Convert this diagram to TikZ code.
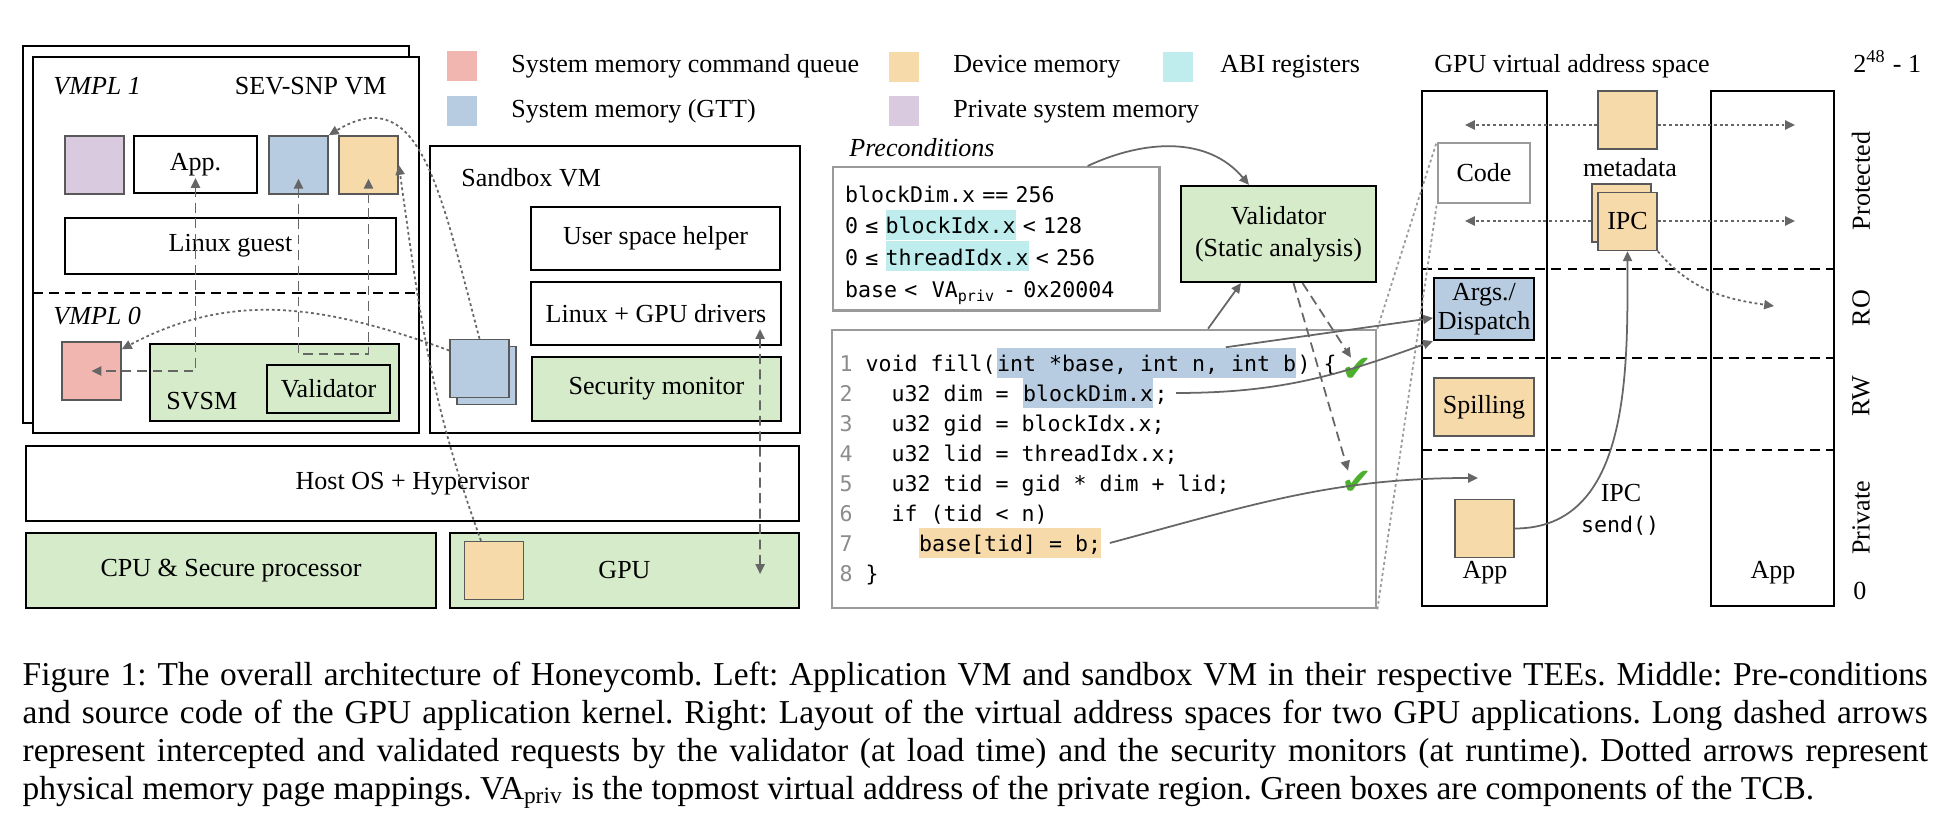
\documentclass[tikz,border=0pt]{standalone}
\usepackage{fontspec}
\setmainfont{Liberation Serif}
\newfontfamily\codefont{DejaVu Sans Mono}
\newfontfamily\checkfont{DejaVu Sans}
\usetikzlibrary{arrows.meta,positioning}

\definecolor{cmdred}{HTML}{F2B6B0}
\definecolor{gttblue}{HTML}{B8CCE1}
\definecolor{devorange}{HTML}{F7DAAA}
\definecolor{abicyan}{HTML}{BFEDED}
\definecolor{privpurple}{HTML}{DACAE0}
\definecolor{tcbgreen}{HTML}{D5EBCA}
\definecolor{arrowgray}{HTML}{666666}
\definecolor{framegray}{HTML}{9A9A9A}
\definecolor{lngray}{HTML}{8C8C8C}
\definecolor{checkgreen}{HTML}{4CB02C}

\newcommand{\lblsize}{\fontsize{7.4}{9.2}\selectfont}
\newcommand{\codesize}{\codefont\fontsize{6.14}{9}\selectfont}
\newcommand{\capsize}{\fontsize{9.5}{10.8}\selectfont}
\newcommand{\lnum}[1]{\textcolor{lngray}{#1}}
\newcommand{\hlabi}[1]{{\setlength{\fboxsep}{0pt}\colorbox{abicyan}{\rule[-0.06cm]{0pt}{0.30cm}#1}}}

\begin{document}
\begin{tikzpicture}[x=0.01cm, y=0.01cm, font=\lblsize,
  blk/.style={draw=black, line width=0.6pt, inner sep=0pt, align=center},
  tcbbox/.style={blk, fill=tcbgreen},
  memsq/.style={draw=black!65, line width=0.45pt, fill=#1, minimum width=0.59cm, minimum height=0.58cm, inner sep=0pt},
  swatch/.style={fill=#1, minimum width=0.30cm, minimum height=0.30cm, inner sep=0pt},
  graybox/.style={draw=framegray, line width=0.7pt, inner sep=0pt},
  codeline/.style={font=\codesize, anchor=base west, inner sep=0pt, text height=0.24cm, text depth=0.06cm},
  checkmark/.style={font=\checkfont\fontsize{10.5}{10.5}\selectfont, text=checkgreen, inner sep=0pt},
  ctrlflow/.style={draw=arrowgray, line width=0.5pt, -{Triangle[length=2.8pt,width=2.6pt]}},
  request/.style={draw=arrowgray, line width=0.5pt, dash pattern=on 2.8pt off 1.6pt, -{Triangle[length=2.8pt,width=2.6pt]}},
  bothreq/.style={request, {Triangle[length=2.8pt,width=2.6pt]}-{Triangle[length=2.8pt,width=2.6pt]}},
  mapping/.style={draw=arrowgray, line width=0.5pt, dash pattern=on 0.8pt off 0.8pt, -{Triangle[length=2.8pt,width=2.6pt]}},
  zoomline/.style={draw=framegray, line width=0.5pt, dash pattern=on 0.8pt off 0.8pt},
  region/.style={draw=black, line width=0.6pt, dash pattern=on 2.8pt off 1.8pt}]
  \useasboundingbox (0,0) rectangle (1936,-828);

  % application VM (SEV-SNP)
  \node[blk, minimum width=3.86cm, minimum height=3.77cm] (vmback) at (216,-234.5) {};
  \node[blk, fill=white, minimum width=3.86cm, minimum height=3.76cm] (snpvm) at (226,-245) {};
  \node[anchor=base west] (vmplone) at (41,-95) {\textit{VMPL 1}};
  \node[anchor=base east] (snplabel) at (399,-95) {SEV-SNP VM};
  \draw[region] (33,-293) -- (419,-293);
  \node[anchor=base west] (vmplzero) at (41,-325) {\textit{VMPL 0}};
  \node[memsq=privpurple] (privsq) at (94.5,-165) {};
  \node[blk, minimum width=1.23cm, minimum height=0.57cm] (appbox) at (195.5,-164.5) {App.};
  \node[memsq=gttblue] (gttsq) at (298.5,-165) {};
  \node[memsq=devorange] (devsq) at (368.5,-165) {};
  \node[blk, minimum width=3.31cm, minimum height=0.56cm] (linuxguest) at (230.5,-246) {Linux guest};
  \node[memsq=cmdred] (cmdsq) at (91.5,-371) {};
  \node[tcbbox, minimum width=2.49cm, minimum height=0.77cm] (svsm) at (274.5,-382.5) {};
  \node[anchor=base west] (svsmlabel) at (154,-410) {SVSM};
  \node[tcbbox, minimum width=1.23cm, minimum height=0.48cm] (svsmval) at (328.5,-389) {Validator};

  % sandbox VM
  \node[blk, minimum width=3.70cm, minimum height=2.87cm] (sandbox) at (615,-289.5) {};
  \node[anchor=base west] (sblabel) at (449,-187) {Sandbox VM};
  \node[blk, minimum width=2.49cm, minimum height=0.63cm] (helper) at (655.5,-238.5) {User space helper};
  \node[blk, minimum width=2.50cm, minimum height=0.63cm] (drivers) at (656,-313.5) {Linux + GPU drivers};
  \node[tcbbox, minimum width=2.49cm, minimum height=0.64cm] (secmon) at (656.5,-389) {Security monitor};
  \node[memsq=gttblue] (gttback) at (486.5,-375.5) {};
  \node[memsq=gttblue] (gttfront) at (479.5,-368.5) {};

  % host and hardware
  \node[blk, minimum width=7.73cm, minimum height=0.75cm] (host) at (412.5,-483.5) {Host OS + Hypervisor};
  \node[tcbbox, minimum width=4.10cm, minimum height=0.75cm] (cpu) at (231,-570.5) {CPU \& Secure processor};
  \node[tcbbox, minimum width=3.49cm, minimum height=0.75cm] (gpu) at (624.5,-570.5) {GPU};
  \node[memsq=devorange] (gpumem) at (494,-570.5) {};

  % legend
  \node[swatch=cmdred] (keycmd) at (462,-66.5) {};
  \node[anchor=base west] (keycmdtext) at (499,-73) {System memory command queue};
  \node[swatch=gttblue] (keygtt) at (462,-111) {};
  \node[anchor=base west] (keygtttext) at (499,-118) {System memory (GTT)};
  \node[swatch=devorange] (keydev) at (904,-67) {};
  \node[anchor=base west] (keydevtext) at (941,-73) {Device memory};
  \node[swatch=abicyan] (keyabi) at (1178,-67) {};
  \node[anchor=base west] (keyabitext) at (1208,-73) {ABI registers};
  \node[swatch=privpurple] (keypriv) at (904,-111) {};
  \node[anchor=base west] (keyprivtext) at (941,-118) {Private system memory};

  % preconditions and kernel source
  \node[anchor=base west] (condtitle) at (837,-157) {\textit{Preconditions}};
  \node[graybox, anchor=north west, minimum width=3.26cm, minimum height=1.43cm, text width=3.02cm, inner xsep=0.12cm, align=left, font=\codesize] (precond) at (832,-166)
    {\rule{0pt}{0.29cm}blockDim.x == 256\\ 0 ≤ \hlabi{blockIdx.x} < 128\\ 0 ≤ \hlabi{threadIdx.x} < 256\\ base <\ \ VA\textsubscript{priv} - 0x20004};
  \node[tcbbox, minimum width=1.95cm, minimum height=0.96cm] (validator) at (1278.5,-234) {Validator\\(Static analysis)};

  \node[graybox, minimum width=5.44cm, minimum height=2.78cm] (codebox) at (1104,-469) {};
  \node[codeline] (lonea) at (839,-372) {\lnum{1} void fill(};
  \node[codeline, fill=gttblue] (hlargs) at (lonea.base east) {int *base, int n, int b};
  \node[codeline] (lonec) at (hlargs.base east) {) \{};
  \node[codeline] (ltwoa) at (839,-402) {\lnum{2}~~~u32 dim =~\null};
  \node[codeline, fill=gttblue] (hldim) at (ltwoa.base east) {blockDim.x};
  \node[codeline] (ltwoc) at (hldim.base east) {;};
  \node[codeline] (lthree) at (839,-432) {\lnum{3}~~~u32 gid = blockIdx.x;};
  \node[codeline] (lfour) at (839,-462) {\lnum{4}~~~u32 lid = threadIdx.x;};
  \node[codeline] (lfive) at (839,-492) {\lnum{5}~~~u32 tid = gid * dim + lid;};
  \node[codeline] (lsix) at (839,-522) {\lnum{6}~~~if (tid < n)};
  \node[codeline] (lsevena) at (839,-552) {\lnum{7}~~~~~\null};
  \node[codeline, fill=devorange] (hlbase) at (lsevena.base east) {base[tid] = b;};
  \node[codeline] (leight) at (839,-582) {\lnum{8} \}};
  \node[checkmark] (chkone) at (1357,-370) {✔};
  \node[checkmark] (chktwo) at (1357,-483) {✔};

  % GPU virtual address spaces
  \node[anchor=base west] (vatitle) at (1422,-73) {GPU virtual address space};
  \node[anchor=base west] (vatop) at (1841,-73) {2\textsuperscript{48} - 1};
  \node[anchor=base west] (vabottom) at (1841,-600) {0};
  \node[blk, minimum width=1.25cm, minimum height=5.15cm] (vaspaceone) at (1484.5,-348.5) {};
  \node[blk, minimum width=1.23cm, minimum height=5.15cm] (vaspacetwo) at (1772.5,-348.5) {};
  \draw[region] (1422,-269) -- (1834,-269);
  \draw[region] (1422,-358) -- (1834,-358);
  \draw[region] (1422,-450) -- (1834,-450);
  \node[rotate=90] (protlabel) at (1861,-181) {Protected};
  \node[rotate=90] (rolabel) at (1861,-308) {RO};
  \node[rotate=90] (rwlabel) at (1861,-396) {RW};
  \node[rotate=90] (privlabel) at (1861,-518) {Private};

  \node[memsq=devorange] (metasq) at (1627.5,-120) {};
  \node[anchor=base] (metalabel) at (1630,-177) {metadata};
  \node[memsq=devorange] (ipcback) at (1621.5,-213) {};
  \node[memsq=devorange] (ipcfront) at (1627.5,-221.5) {IPC};
  \node[graybox, minimum width=0.92cm, minimum height=0.60cm] (codeva) at (1484,-173) {Code};
  \node[blk, fill=gttblue, minimum width=1.00cm, minimum height=0.62cm, font=\fontsize{7.4}{8.3}\selectfont] (argsbox) at (1484,-309) {Args./\\Dispatch};
  \node[memsq=devorange, minimum width=1.00cm] (spillbox) at (1484,-407) {Spilling};
  \node[memsq=devorange] (appsq) at (1484.5,-528.5) {};
  \node[anchor=base] (appone) at (1485,-579) {App};
  \node[anchor=base] (apptwo) at (1773,-579) {App};
  \node[anchor=base] (ipclabel) at (1621,-502) {IPC};
  \node[anchor=base, font=\codesize] (sendlabel) at (1620,-533) {send()};

  \coordinate (privtarget) at (1478,-478);
  \coordinate (mapleftone) at (1465,-125);
  \coordinate (maprightone) at (1795,-125);
  \coordinate (maplefttwo) at (1465,-221);
  \coordinate (maprighttwo) at (1795,-221);
  \coordinate (maprightro) at (1774,-306);

  % requests checked by the validators and the security monitor
  \draw[bothreq] ([yshift=0.16cm]appbox.south) |- (cmdsq.center);
  \draw[bothreq] ([yshift=0.16cm]gttsq.south) -- ++(0,-175) -| ([yshift=0.16cm]devsq.south);
  \draw[bothreq] ([xshift=1.04cm,yshift=0.17cm]drivers.south) -- ([xshift=1.355cm,yshift=0.35cm]gpu.south);
  \draw[request] ([xshift=0.24cm]validator.south) -- ([xshift=-0.06cm]chkone.north);
  \draw[request] ([xshift=0.15cm]validator.south) -- ([xshift=-0.09cm]chktwo.north);

  % page mappings
  \draw[mapping] (gttfront.north) .. controls (440,-190) and (420,-80) .. (gttsq.north east);
  \draw[mapping] ([xshift=-0.13cm]gpumem.north) to[out=110,in=-82] (devsq.east);
  \draw[mapping] ([yshift=0.18cm]gttfront.west) to[out=160,in=28] ([yshift=-0.08cm]cmdsq.north east);
  \draw[mapping] (metasq.west |- mapleftone) -- (mapleftone);
  \draw[mapping] (metasq.east |- maprightone) -- (maprightone);
  \draw[mapping] (ipcback.west |- maplefttwo) -- (maplefttwo);
  \draw[mapping] (ipcfront.east |- maprighttwo) -- (maprighttwo);
  \draw[mapping] (ipcfront.south east) to[out=-50,in=172] (maprightro);
  \draw[zoomline] (codebox.north east) -- (codeva.north west);
  \draw[zoomline] (codebox.south east) -- (codeva.south west);

  % analysis and data flow
  \draw[ctrlflow] ([xshift=-0.73cm]precond.north east) to[out=25,in=130] ([xshift=-0.295cm]validator.north);
  \draw[ctrlflow] ([xshift=1.04cm]codebox.north) -- ([xshift=-0.375cm]validator.south);
  \draw[ctrlflow] ([xshift=-0.71cm]hlargs.north east) -- ([yshift=-0.09cm]argsbox.west);
  \draw[ctrlflow] ([xshift=0.08cm]ltwoc.east) to[out=0,in=200] (argsbox.south west);
  \draw[ctrlflow] ([xshift=0.08cm]hlbase.east) to[out=15,in=180] (privtarget);
  \draw[ctrlflow] (appsq.east) to[out=0,in=-90] (ipcfront.south);

  % caption
  \node[anchor=north west, text width=19.04cm, align=justify, inner sep=0pt, font=\capsize] (caption) at (22,-661)
    {\frenchspacing\hyphenpenalty=10000\exhyphenpenalty=10000 Figure 1: The overall architecture of Honeycomb. Left: Application VM and sandbox VM in their respective TEEs. Middle: Pre-conditions\linebreak
    and source code of the GPU application kernel. Right: Layout of the virtual address spaces for two GPU applications. Long dashed arrows\linebreak
    represent intercepted and validated requests by the validator (at load time) and the security monitors (at runtime). Dotted arrows represent\linebreak
    physical memory page mappings. VA\textsubscript{priv} is the topmost virtual address of the private region. Green boxes are components of the TCB.};
\end{tikzpicture}
\end{document}
